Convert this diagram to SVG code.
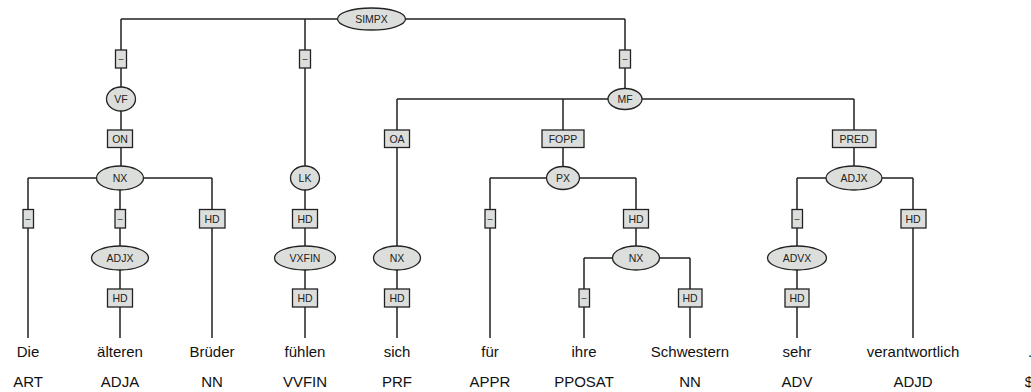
<svg xmlns="http://www.w3.org/2000/svg" width="1031" height="392" viewBox="0 0 1031 392">
<style>
.e{fill:#dcdedc;stroke:#222;stroke-width:1.3}
.b{fill:#dcdedc;stroke:#222;stroke-width:1.3}
.l{fill:none;stroke:#222;stroke-width:1.5}
.t{font-family:"Liberation Sans",Arial,sans-serif;font-size:10.5px;fill:#222;text-anchor:middle}
.d{font-family:"Liberation Sans",Arial,sans-serif;font-size:9px;fill:#222;text-anchor:middle}
.w{font-family:"Liberation Sans",Arial,sans-serif;font-size:15px;fill:#111;text-anchor:middle}
</style>
<rect width="1031" height="392" fill="#fff"/>
<g id="connectors">
<path class="l" d="M121,19H625M121,19V99M305,19V178M625,19V99"/>
<path class="l" d="M121,99V178M28,178H212M28,178V338M120,178V338M212,178V338"/>
<path class="l" d="M305,178V338"/>
<path class="l" d="M397,99H854M397,99V338M563,99V178M854,99V178"/>
<path class="l" d="M490,178H636M490,178V338M636,178V258M584,258H690M584,258V338M690,258V338"/>
<path class="l" d="M797,178H913M797,178V338M913,178V338"/>
</g>
<g id="n-simpx"><ellipse class="e" cx="371.5" cy="19" rx="34" ry="11"/><text class="t" x="371.5" y="22.8">SIMPX</text></g>
<g id="e-vf"><rect class="b" x="115.5" y="50" width="11" height="18"/><text class="d" x="121" y="62">–</text></g>
<g id="e-lk"><rect class="b" x="299.5" y="50" width="11" height="18"/><text class="d" x="305" y="62">–</text></g>
<g id="e-mf"><rect class="b" x="619.5" y="50" width="11" height="18"/><text class="d" x="625" y="62">–</text></g>
<g id="n-vf"><ellipse class="e" cx="121" cy="99" rx="14.5" ry="12"/><text class="t" x="121" y="102.8">VF</text></g>
<g id="n-mf"><ellipse class="e" cx="625" cy="99" rx="17" ry="10.5"/><text class="t" x="625" y="102.8">MF</text></g>
<g id="e-on"><rect class="b" x="107.5" y="130" width="25" height="17.5"/><text class="t" x="120" y="142.5">ON</text></g>
<g id="e-oa"><rect class="b" x="384.5" y="130" width="25" height="17.5"/><text class="t" x="397" y="142.5">OA</text></g>
<g id="e-fopp"><rect class="b" x="542" y="130" width="42" height="17.5"/><text class="t" x="563" y="142.5">FOPP</text></g>
<g id="e-pred"><rect class="b" x="832.5" y="130" width="43.5" height="17.5"/><text class="t" x="854" y="142.5">PRED</text></g>
<g id="n-nx1"><ellipse class="e" cx="120" cy="178" rx="23.5" ry="12"/><text class="t" x="120" y="181.8">NX</text></g>
<g id="n-lk"><ellipse class="e" cx="305" cy="178" rx="14.5" ry="12"/><text class="t" x="305" y="181.8">LK</text></g>
<g id="n-px"><ellipse class="e" cx="563" cy="178" rx="16.5" ry="11.5"/><text class="t" x="563" y="181.8">PX</text></g>
<g id="n-adjx2"><ellipse class="e" cx="854" cy="178" rx="28" ry="12"/><text class="t" x="854" y="181.8">ADJX</text></g>
<g id="e-die"><rect class="b" x="23" y="209.5" width="10.5" height="18.5"/><text class="d" x="28" y="221.5">–</text></g>
<g id="e-adjx1"><rect class="b" x="115" y="209.5" width="10.5" height="18.5"/><text class="d" x="120" y="221.5">–</text></g>
<g id="e-bruder"><rect class="b" x="199.5" y="209.5" width="25.5" height="18.5"/><text class="t" x="212" y="222.5">HD</text></g>
<g id="e-vxfin"><rect class="b" x="292.5" y="209.5" width="25" height="18.5"/><text class="t" x="305" y="222.5">HD</text></g>
<g id="e-fur"><rect class="b" x="485" y="209.5" width="10.5" height="18.5"/><text class="d" x="490" y="221.5">–</text></g>
<g id="e-nx3"><rect class="b" x="623.5" y="209.5" width="25" height="18.5"/><text class="t" x="636" y="222.5">HD</text></g>
<g id="e-advx"><rect class="b" x="792" y="209.5" width="10.5" height="18.5"/><text class="d" x="797" y="221.5">–</text></g>
<g id="e-verant"><rect class="b" x="901" y="209.5" width="25" height="18.5"/><text class="t" x="913" y="222.5">HD</text></g>
<g id="n-adjx1"><ellipse class="e" cx="120" cy="258" rx="28.5" ry="12"/><text class="t" x="120" y="261.8">ADJX</text></g>
<g id="n-vxfin"><ellipse class="e" cx="305" cy="258" rx="30.5" ry="12"/><text class="t" x="305" y="261.8">VXFIN</text></g>
<g id="n-nx2"><ellipse class="e" cx="397" cy="258" rx="23.5" ry="12"/><text class="t" x="397" y="261.8">NX</text></g>
<g id="n-nx3"><ellipse class="e" cx="636" cy="258" rx="23.5" ry="12"/><text class="t" x="636" y="261.8">NX</text></g>
<g id="n-advx"><ellipse class="e" cx="797" cy="258" rx="29.5" ry="12"/><text class="t" x="797" y="261.8">ADVX</text></g>
<g id="e-alteren"><rect class="b" x="107.5" y="289" width="25" height="18"/><text class="t" x="120" y="301.8">HD</text></g>
<g id="e-fuhlen"><rect class="b" x="292.5" y="289" width="25" height="18"/><text class="t" x="305" y="301.8">HD</text></g>
<g id="e-sich"><rect class="b" x="384.5" y="289" width="25" height="18"/><text class="t" x="397" y="301.8">HD</text></g>
<g id="e-ihre"><rect class="b" x="579" y="289" width="10.5" height="18"/><text class="d" x="584" y="301">–</text></g>
<g id="e-schw"><rect class="b" x="678.5" y="289" width="23.5" height="18"/><text class="t" x="690" y="301.8">HD</text></g>
<g id="e-sehr"><rect class="b" x="785" y="289" width="24" height="18"/><text class="t" x="797" y="301.8">HD</text></g>
<g id="words">
<text class="w" x="28" y="357">Die</text>
<text class="w" x="120" y="357">älteren</text>
<text class="w" x="212" y="357">Brüder</text>
<text class="w" x="305" y="357">fühlen</text>
<text class="w" x="397" y="357">sich</text>
<text class="w" x="490" y="357">für</text>
<text class="w" x="584" y="357">ihre</text>
<text class="w" x="690" y="357">Schwestern</text>
<text class="w" x="797" y="357">sehr</text>
<text class="w" x="913" y="357">verantwortlich</text>
<text class="w" x="1030" y="357">.</text>
</g>
<g id="tags">
<text class="w" x="28" y="387">ART</text>
<text class="w" x="120" y="387">ADJA</text>
<text class="w" x="212" y="387">NN</text>
<text class="w" x="305" y="387">VVFIN</text>
<text class="w" x="397" y="387">PRF</text>
<text class="w" x="490" y="387">APPR</text>
<text class="w" x="584" y="387">PPOSAT</text>
<text class="w" x="690" y="387">NN</text>
<text class="w" x="797" y="387">ADV</text>
<text class="w" x="913" y="387">ADJD</text>
<text class="w" x="1031" y="387">$.</text>
</g>
</svg>
